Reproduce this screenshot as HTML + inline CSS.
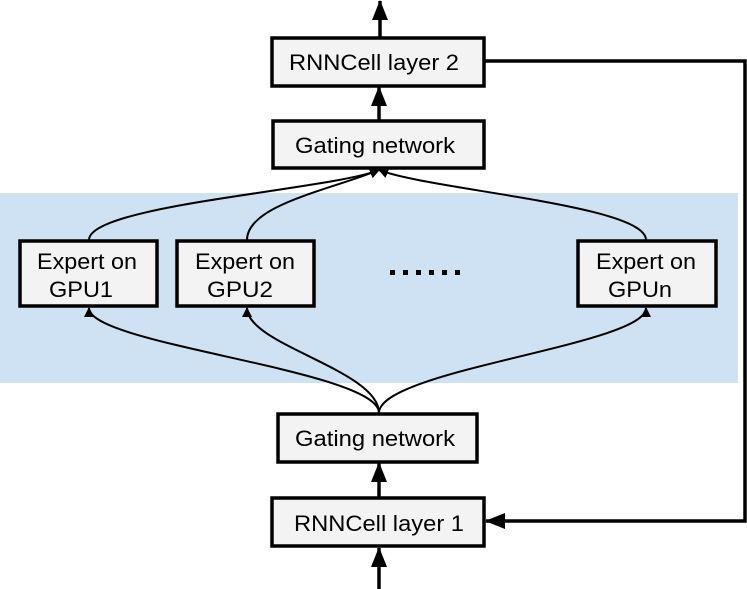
<!DOCTYPE html>
<html><head><style>body{margin:0;background:#fff}svg{display:block}</style></head><body>
<svg width="747" height="589" viewBox="0 0 747 589" xmlns="http://www.w3.org/2000/svg" font-family="Liberation Sans, Arial, sans-serif">
<defs>
<marker id="big" markerWidth="10" markerHeight="10" refX="9" refY="5" orient="auto" markerUnits="userSpaceOnUse"><path d="M0,0 L10,5 L0,10 z" fill="#000"/></marker>
<marker id="big2" markerWidth="20" markerHeight="16" refX="19" refY="8" orient="auto" markerUnits="userSpaceOnUse"><path d="M0,0 L20,8 L0,16 z" fill="#000"/></marker>
</defs>
<rect x="0" y="193" width="738" height="190" fill="#cfe2f3"/>
<g fill="none" stroke="#000" stroke-width="2">
<path d="M89,240 C89,205 330,190 379,170" marker-end="url(#big)"/>
<path d="M247,240 C247,205 330,190 379,170" marker-end="url(#big)"/>
<path d="M646,240 C646,205 430,190 379,170" marker-end="url(#big)"/>
<path d="M379,413 C379,370 89,345 89,308" marker-end="url(#big)"/>
<path d="M379,413 C379,370 247,345 247,308" marker-end="url(#big)"/>
<path d="M379,413 C379,370 646,345 646,308" marker-end="url(#big)"/>
</g>
<g stroke="#000" stroke-width="3.5" fill="none">
<line x1="380" y1="37" x2="380" y2="1" marker-end="url(#big2)"/>
<line x1="379" y1="120" x2="379" y2="87" marker-end="url(#big2)"/>
<line x1="379" y1="497" x2="379" y2="463" marker-end="url(#big2)"/>
<line x1="379" y1="589" x2="379" y2="548" marker-end="url(#big2)"/>
<polyline points="484,61 745,61 745,521 486,521" marker-end="url(#big2)"/>
</g>
<g fill="#f3f3f3" stroke="#000" stroke-width="3.5">
<rect x="272" y="38" width="212" height="48"/>
<rect x="273" y="121" width="211" height="47"/>
<rect x="20" y="241" width="137" height="65"/>
<rect x="177" y="241" width="137" height="65"/>
<rect x="578" y="241" width="138" height="65"/>
<rect x="278" y="414" width="199" height="48"/>
<rect x="272" y="498" width="212" height="48"/>
</g>
<g font-size="22" fill="#000" text-anchor="middle">
<text x="374" y="70" textLength="170" lengthAdjust="spacingAndGlyphs">RNNCell layer 2</text>
<text x="375" y="153" textLength="160" lengthAdjust="spacingAndGlyphs">Gating network</text>
<text x="87" y="269" textLength="100" lengthAdjust="spacingAndGlyphs">Expert on</text><text x="81" y="297" textLength="64" lengthAdjust="spacingAndGlyphs">GPU1</text>
<text x="245" y="269" textLength="100" lengthAdjust="spacingAndGlyphs">Expert on</text><text x="240" y="297" textLength="66" lengthAdjust="spacingAndGlyphs">GPU2</text>
<text x="646" y="269" textLength="100" lengthAdjust="spacingAndGlyphs">Expert on</text><text x="640" y="297" textLength="64" lengthAdjust="spacingAndGlyphs">GPUn</text>
<text x="375" y="446" textLength="160" lengthAdjust="spacingAndGlyphs">Gating network</text>
<text x="379" y="531" textLength="170" lengthAdjust="spacingAndGlyphs">RNNCell layer 1</text>
</g>
<g fill="#000"><rect x="390" y="270" width="5" height="5"/><rect x="403" y="270" width="5" height="5"/><rect x="416" y="270" width="5" height="5"/><rect x="429" y="270" width="5" height="5"/><rect x="442" y="270" width="5" height="5"/><rect x="455" y="270" width="5" height="5"/></g>
</svg>
</body></html>
